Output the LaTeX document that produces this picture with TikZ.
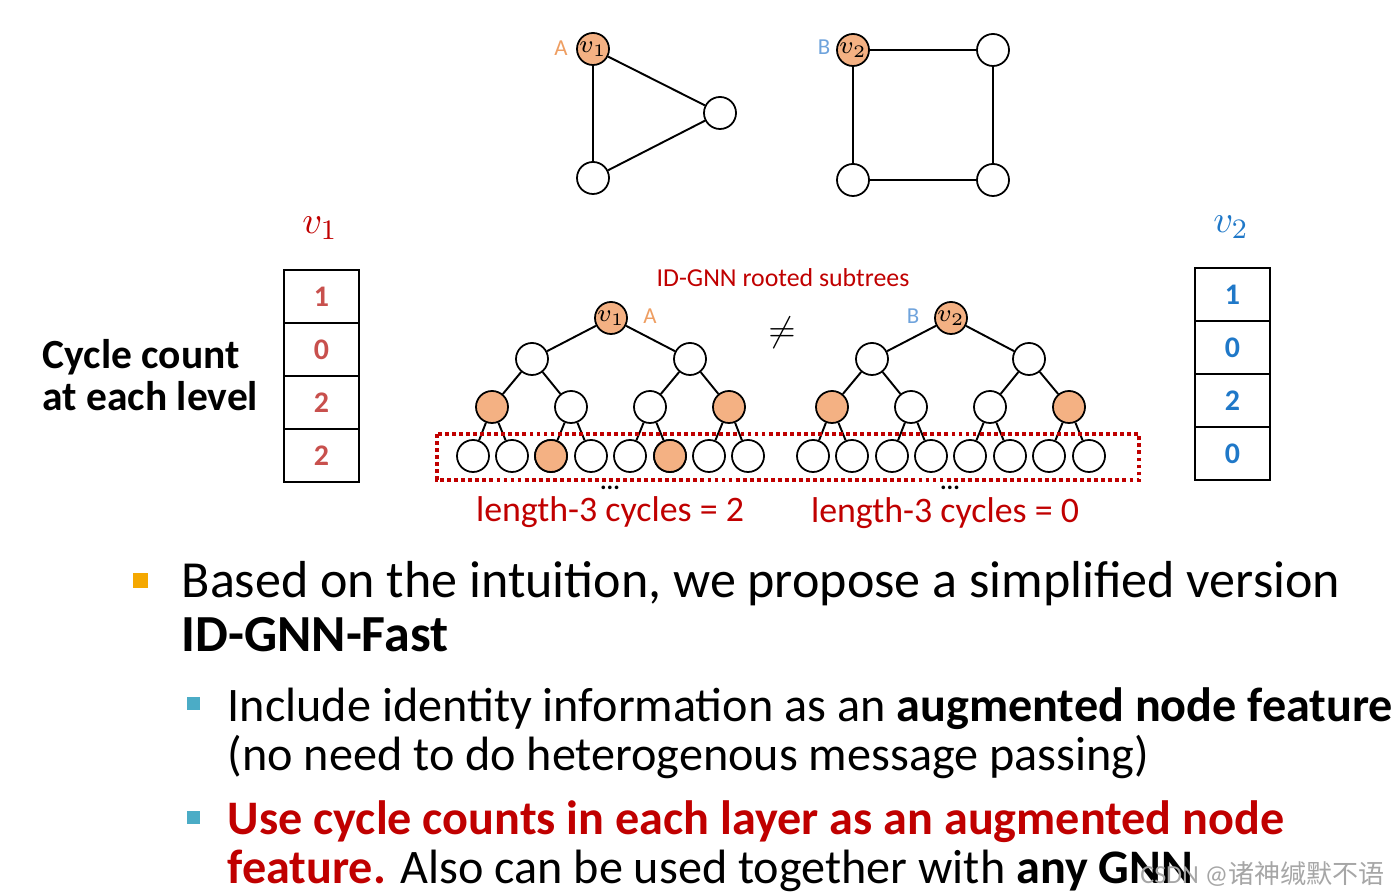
\documentclass[tikz,border=0pt]{standalone}
\usepackage{fontspec}
\setmainfont{Carlito}
\newfontfamily\cjkfont{Noto Sans CJK SC}
\usepackage{tikz}
\usetikzlibrary{positioning}
\definecolor{cnode}{HTML}{F4B183}
\definecolor{cred}{HTML}{C00000}
\definecolor{cnum}{HTML}{C8504D}
\definecolor{cblue}{HTML}{1F78C8}
\definecolor{clabA}{HTML}{EE9E62}
\definecolor{clabB}{HTML}{6FA3DC}
\definecolor{cbullet}{HTML}{F5A800}
\definecolor{csub}{HTML}{4BACC6}
\tikzset{
  gnode/.style={circle, draw, line width=0.5pt, fill=white, minimum size=0.32cm,
    inner sep=0pt, font=\fontsize{7.5}{8}\selectfont},
  hlnode/.style={gnode, fill=cnode},
  edge/.style={line width=0.55pt},
  cellbox/.style={rectangle, draw, line width=0.55pt, minimum width=0.75cm,
    minimum height=0.53cm, outer sep=0pt, inner sep=0pt,
    font=\fontsize{8.5}{9}\bfseries\selectfont},
  tag/.style={inner sep=0pt, font=\fontsize{6.5}{7}\selectfont},
  bodytext/.style={anchor=base west, inner sep=0pt, font=\fontsize{14.8}{16}\selectfont},
  subtext/.style={anchor=base west, inner sep=0pt, font=\fontsize{13.7}{15}\selectfont},
  sqbullet/.style={rectangle, inner sep=0pt, minimum size=#1}
}

\begin{document}
\begin{tikzpicture}[x=0.01cm, y=-0.01cm]
  \useasboundingbox (0,0) rectangle (1400,892);
  \clip (0,0) rectangle (1400,892);

  % top graphs
  \node[hlnode] (a1) at (593,49) {$v_1$};
  \node[gnode] (a2) at (720,113) {};
  \node[gnode] (a3) at (593,178) {};
  \node[tag, clabA] (tA) at (561,48) {A};
  \draw[edge] (a1) -- (a2) -- (a3) -- (a1);

  \node[hlnode] (b1) at (853,50) {$v_2$};
  \node[gnode] (b2) at (993,50) {};
  \node[gnode] (b3) at (853,180) {};
  \node[gnode] (b4) at (993,180) {};
  \node[tag, clabB] (tB) at (824,47) {B};
  \draw[edge] (b1) -- (b2) -- (b4) -- (b3) -- (b1);

  % cycle count tables
  \node[font=\fontsize{11}{12}\selectfont, text=cred] (lv1) at (320,228) {$v_1$};
  \node[cellbox, text=cnum] (ca1) at (321.5,296.5) {1};
  \node[cellbox, text=cnum, below=0pt of ca1] (ca2) {0};
  \node[cellbox, text=cnum, below=0pt of ca2] (ca3) {2};
  \node[cellbox, text=cnum, below=0pt of ca3] (ca4) {2};

  \node[font=\fontsize{11}{12}\selectfont, text=cblue] (lv2) at (1231,227) {$v_2$};
  \node[cellbox, text=cblue] (cb1) at (1232.5,294.5) {1};
  \node[cellbox, text=cblue, below=0pt of cb1] (cb2) {0};
  \node[cellbox, text=cblue, below=0pt of cb2] (cb3) {2};
  \node[cellbox, text=cblue, below=0pt of cb3] (cb4) {0};

  \node[anchor=west, align=left, inner sep=0pt,
    font=\fontsize{11.8}{12}\bfseries\selectfont] (cyc) at (42,375) {Cycle count\\at each level};

  % rooted subtrees
  \node[text=cred, font=\fontsize{7.35}{8}\selectfont] (title) at (783,278) {ID-GNN rooted subtrees};
  \node[font=\fontsize{10}{12}\selectfont] (neq) at (782,333) {$\neq$};

  \node[hlnode] (ra) at (611,318) {$v_1$};
  \node[tag, clabA] (tA2) at (650,316) {A};
  \node[gnode] (ua1) at (532,359) {};
  \node[gnode] (ua2) at (690,359) {};
  \node[hlnode] (ma1) at (492,407) {};
  \node[gnode] (ma2) at (571,407) {};
  \node[gnode] (ma3) at (650,407) {};
  \node[hlnode] (ma4) at (729,407) {};
  \foreach \x [count=\i] in {473,512,551,591,630,670,709,748}
    \node[gnode] (la\i) at (\x,456) {};
  \node[hlnode] at (la3) {};
  \node[hlnode] at (la6) {};

  \node[hlnode] (rb) at (951,318) {$v_2$};
  \node[tag, clabB] (tB2) at (913,316) {B};
  \node[gnode] (ub1) at (872,359) {};
  \node[gnode] (ub2) at (1029,359) {};
  \node[hlnode] (mb1) at (832,407) {};
  \node[gnode] (mb2) at (911,407) {};
  \node[gnode] (mb3) at (990,407) {};
  \node[hlnode] (mb4) at (1069,407) {};
  \foreach \x [count=\i] in {813,852,892,931,970,1010,1049,1089}
    \node[gnode] (lb\i) at (\x,456) {};

  \foreach \t in {a,b} {
    \draw[edge] (r\t) -- (u\t1);
    \draw[edge] (r\t) -- (u\t2);
    \draw[edge] (u\t1) -- (m\t1);
    \draw[edge] (u\t1) -- (m\t2);
    \draw[edge] (u\t2) -- (m\t3);
    \draw[edge] (u\t2) -- (m\t4);
    \foreach \i/\j/\k in {1/1/2,2/3/4,3/5/6,4/7/8} {
      \draw[edge] (m\t\i) -- (l\t\j);
      \draw[edge] (m\t\i) -- (l\t\k);
    }
  }

  \draw[cred, line width=1.1pt, dash pattern=on 1.1pt off 0.9pt] (437,434) rectangle (1139,480);
  \node[font=\fontsize{7}{7}\bfseries\selectfont, inner sep=1pt, anchor=base] (dotsa) at (610,490) {...};
  \node[font=\fontsize{7}{7}\bfseries\selectfont, inner sep=1pt, anchor=base] (dotsb) at (950,490) {...};
  \node[text=cred, font=\fontsize{10.2}{11}\selectfont] (lena) at (610,512) {length-3 cycles = 2};
  \node[text=cred, font=\fontsize{10.2}{11}\selectfont] (lenb) at (945,513) {length-3 cycles = 0};

  % bullet text
  \node[sqbullet=0.15cm, fill=cbullet] (bl1) at (140.5,580.5) {};
  \node[bodytext] (p1) at (181,598) {Based on the intuition, we propose a simplified version};
  \node[bodytext, font=\fontsize{14.8}{16}\bfseries\selectfont] (p2) at (181,652) {ID-GNN-Fast};

  \node[sqbullet=0.13cm, fill=csub] (bl2) at (193.5,703.5) {};
  \node[subtext] (p3) at (227,722)
    {Include identity information as an \textbf{augmented node feature}};
  \node[subtext] (p4) at (227,771)
    {(no need to do heterogenous message passing)};
  \node[sqbullet=0.13cm, fill=csub] (bl3) at (193.5,817.5) {};
  \node[subtext, text=cred, font=\fontsize{13.7}{15}\bfseries\selectfont] (p5) at (227,835)
    {Use cycle counts in each layer as an augmented node};
  \node[subtext] (p6) at (227,884)
    {\textcolor{cred}{\textbf{feature.}} Also can be used together with \textbf{any GNN}};

  \node[anchor=base east, inner sep=0pt, text=black!35, font=\fontsize{7.4}{8}\selectfont]
    (wm) at (1385,884) {CSDN @{\cjkfont 诸神缄默不语}};
\end{tikzpicture}
\end{document}
